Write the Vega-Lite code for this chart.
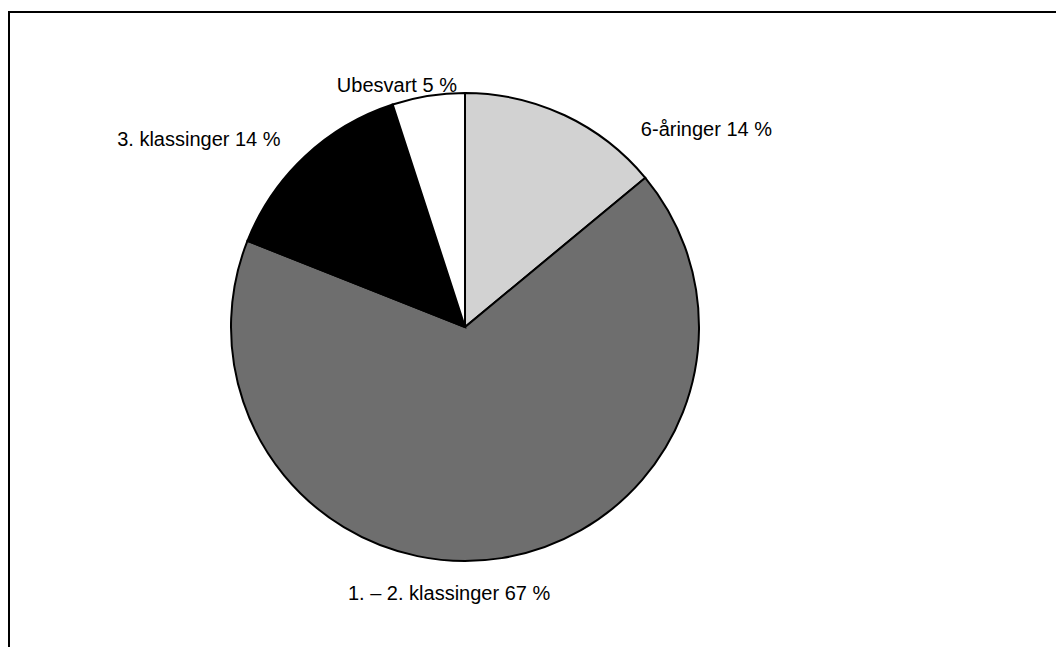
{
  "$schema": "https://vega.github.io/schema/vega-lite/v6.json",
  "width": 1100,
  "height": 700,
  "autosize": {"type": "none"},
  "padding": {"left": 9, "top": 12, "right": 0, "bottom": 0},
  "background": "white",
  "view": {"stroke": "black", "strokeWidth": 2, "fill": "white", "strokeDash": [1100, 1800, 700, 2]},
  "data": {
    "values": [
      {"group": "6-åringer", "pct": 14, "order": 1, "label": "6-åringer 14 %"},
      {"group": "1. – 2. klassinger", "pct": 67, "order": 2, "label": "1. – 2. klassinger 67 %"},
      {"group": "3. klassinger", "pct": 14, "order": 3, "label": "3. klassinger 14 %"},
      {"group": "Ubesvart", "pct": 5, "order": 4, "label": "Ubesvart 5 %"}
    ]
  },
  "transform": [
    {"stack": "pct", "groupby": [], "sort": [{"field": "order"}], "as": ["s0", "s1"]},
    {"calculate": "(datum.s0 + datum.s1) / 2", "as": "mid"}
  ],
  "layer": [
    {
      "mark": {"type": "arc", "outerRadius": 234, "stroke": "black", "strokeWidth": 2,
               "x": {"expr": "width * 0.41455"}, "y": {"expr": "height * 0.45"}},
      "encoding": {
        "theta": {"field": "s0", "type": "quantitative", "scale": {"domain": [0, 100]}},
        "theta2": {"field": "s1"},
        "color": {"field": "group", "type": "nominal", "legend": null,
                  "scale": {"domain": ["6-åringer", "1. – 2. klassinger", "3. klassinger", "Ubesvart"],
                            "range": ["#d2d2d2", "#6e6e6e", "#000000", "#ffffff"]}}
      }
    },
    {
      "transform": [{"filter": "datum.order == 1"}],
      "mark": {"type": "text", "radius": 250, "dx": 135, "dy": 29, "fontSize": 20, "font": "Liberation Sans",
               "align": "center", "baseline": "middle", "color": "black",
               "x": {"expr": "width * 0.41455"}, "y": {"expr": "height * 0.45"}},
      "encoding": {
        "theta": {"field": "mid", "type": "quantitative", "scale": {"domain": [0, 100]}},
        "text": {"field": "label"}
      }
    },
    {
      "transform": [{"filter": "datum.order == 2"}],
      "mark": {"type": "text", "radius": 250, "dx": -55, "dy": 20, "fontSize": 20, "font": "Liberation Sans",
               "align": "center", "baseline": "middle", "color": "black",
               "x": {"expr": "width * 0.41455"}, "y": {"expr": "height * 0.45"}},
      "encoding": {
        "theta": {"field": "mid", "type": "quantitative", "scale": {"domain": [0, 100]}},
        "text": {"field": "label"}
      }
    },
    {
      "transform": [{"filter": "datum.order == 3"}],
      "mark": {"type": "text", "radius": 250, "dx": -95, "dy": -5, "fontSize": 20, "font": "Liberation Sans",
               "align": "center", "baseline": "middle", "color": "black",
               "x": {"expr": "width * 0.41455"}, "y": {"expr": "height * 0.45"}},
      "encoding": {
        "theta": {"field": "mid", "type": "quantitative", "scale": {"domain": [0, 100]}},
        "text": {"field": "label"}
      }
    },
    {
      "transform": [{"filter": "datum.order == 4"}],
      "mark": {"type": "text", "radius": 250, "dx": -29, "dy": 6, "fontSize": 20, "font": "Liberation Sans",
               "align": "center", "baseline": "middle", "color": "black",
               "x": {"expr": "width * 0.41455"}, "y": {"expr": "height * 0.45"}},
      "encoding": {
        "theta": {"field": "mid", "type": "quantitative", "scale": {"domain": [0, 100]}},
        "text": {"field": "label"}
      }
    }
  ]
}
